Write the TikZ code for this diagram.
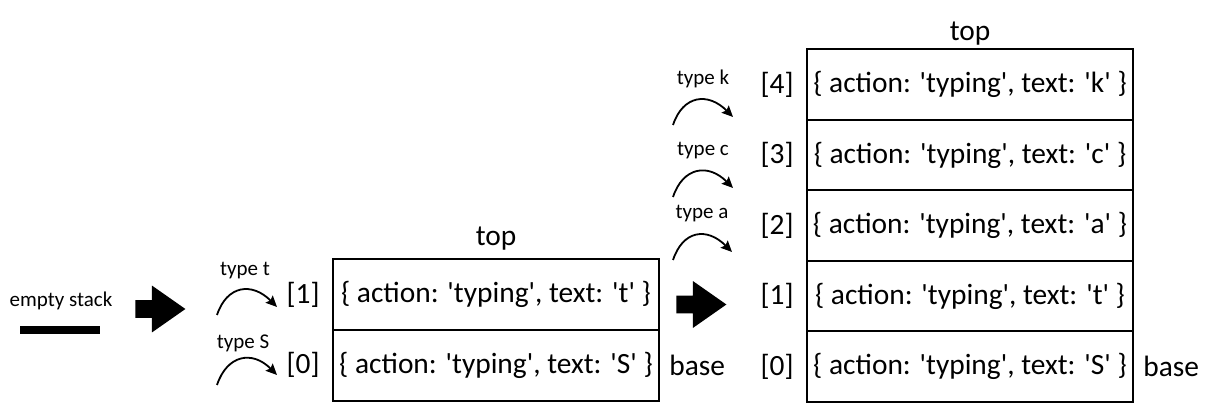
\documentclass[tikz,border=0pt]{standalone}
\usepackage{fontspec}
\setmainfont{Carlito}[Ligatures=TeXOff]
\usetikzlibrary{positioning,arrows.meta,shapes.arrows}

\tikzset{
	cell/.style={draw, line width=1pt, outer sep=0pt, inner sep=0pt, minimum width=163pt, minimum height=35.25pt, font=\fontsize{14.7}{17}\selectfont},
	big/.style={inner sep=1pt, font=\fontsize{14.7}{17}\selectfont},
	small/.style={inner sep=0pt, font=\fontsize{10.5}{12}\selectfont},
	push/.style={-{Stealth[length=5.5pt, width=5pt, inset=0.8pt]}, line width=0.9pt},
	bigarrow/.style={single arrow, fill=black, draw=none, inner xsep=0pt, inner ysep=4.25pt, minimum height=25pt, single arrow head extend=7.25pt, single arrow tip angle=70, anchor=tail}
}

\begin{document}
\begin{tikzpicture}[x=0.5pt, y=-0.5pt]
	\useasboundingbox (0,0) rectangle (1209,416);

	\node[small] (empty) at (61,301) {empty stack};
	\node[fill=black, inner sep=0pt, minimum width=40pt, minimum height=4pt] (bar) at (60,330) {};

	\node[bigarrow] (step1) at (135,309) {};
	\node[bigarrow] (step2) at (676,304.5) {};

	\node[cell] (a1) at (496,294.75) {\{ action: 'typing', text: 't' \}};
	\node[cell, below=0pt of a1] (a0) {\{ action: 'typing', text: 'S' \}};
	\node[big, left=5.5pt of a1] (ia1) {[1]};
	\node[big, left=5.5pt of a0] (ia0) {[0]};
	\node[big, above=7pt of a1.north, anchor=base] (topa) {top};
	\node[big, right=4pt of a0] (basea) {base};

	\node[cell] (b4) at (970,84.55) {\{ action: 'typing', text: 'k' \}};
	\node[cell, below=0pt of b4] (b3) {\{ action: 'typing', text: 'c' \}};
	\node[cell, below=0pt of b3] (b2) {\{ action: 'typing', text: 'a' \}};
	\node[cell, below=0pt of b2] (b1) {\{ action: 'typing', text: 't' \}};
	\node[cell, below=0pt of b1] (b0) {\{ action: 'typing', text: 'S' \}};
	\node[big, left=5.5pt of b4] (ib4) {[4]};
	\node[big, left=5.5pt of b3] (ib3) {[3]};
	\node[big, left=5.5pt of b2] (ib2) {[2]};
	\node[big, left=5.5pt of b1] (ib1) {[1]};
	\node[big, left=5.5pt of b0] (ib0) {[0]};
	\node[big, above=4.5pt of b4.north, anchor=base] (topb) {top};
	\node[big, right=4pt of b0] (baseb) {base};

	\coordinate (ts) at (217,315);
	\coordinate (te) at (277,307);
	\coordinate (Ss) at (217,385);
	\coordinate (Se) at (277,375);
	\coordinate (ks) at (673,125);
	\coordinate (ke) at (733,117);
	\coordinate (cs) at (673,197);
	\coordinate (ce) at (733,188);
	\coordinate (as) at (673,260);
	\coordinate (ae) at (732,252);

	\draw[push] (ts) .. controls +(10,-30) and +(-25,-25) .. (te);
	\draw[push] (Ss) .. controls +(10,-30) and +(-25,-25) .. (Se);
	\draw[push] (ks) .. controls +(10,-30) and +(-25,-25) .. (ke);
	\draw[push] (cs) .. controls +(10,-30) and +(-25,-25) .. (ce);
	\draw[push] (as) .. controls +(10,-30) and +(-25,-25) .. (ae);

	\node[small] (lt) at (245,271) {type t};
	\node[small] (lS) at (243,343) {type S};
	\node[small] (lk) at (703,79) {type k};
	\node[small] (lc) at (703,151) {type c};
	\node[small] (la) at (702,214) {type a};

\end{tikzpicture}
\end{document}
